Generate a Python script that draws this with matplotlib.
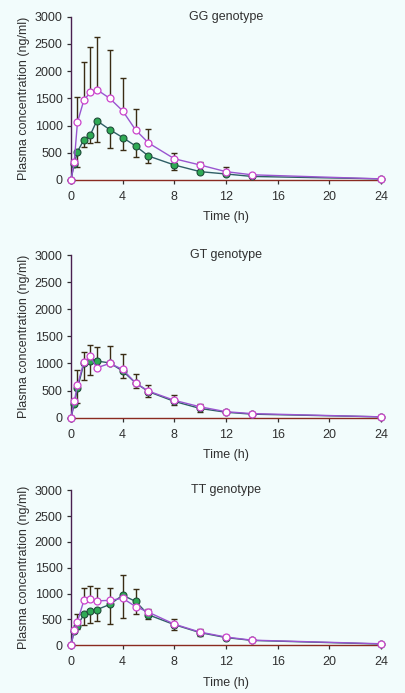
import numpy as np
import matplotlib
matplotlib.use("Agg")
import matplotlib.pyplot as plt

# sampling times (h)
times = [0, 0.25, 0.5, 1, 1.5, 2, 3, 4, 5, 6, 8, 10, 12, 14, 24]

# GG genotype
gg_open = [0, 330, 1060, 1470, 1610, 1660, 1500, 1270, 920, 680, 390, 275, 153, 95, 20]
gg_open_up = [0, 0, 470, 700, 840, 960, 880, 600, 390, 255, 100, 60, 80, 0, 0]
gg_fill = [0, 300, 520, 740, 830, 1090, 925, 780, 625, 440, 275, 153, 110, 65, 20]
gg_fill_dn = [0, 0, 275, 135, 155, 385, 345, 230, 210, 135, 90, 30, 0, 0, 0]

# GT genotype
gt_open = [0, 300, 600, 1030, 1130, 920, 1000, 890, 640, 490, 320, 200, 110, 75, 15]
gt_open_up = [0, 0, 280, 190, 210, 390, 330, 280, 160, 110, 100, 60, 40, 0, 0]
gt_fill = [0, 250, 540, 1000, 1050, 1045, 1010, 860, 640, 480, 300, 170, 100, 65, 15]
gt_fill_dn = [0, 0, 275, 305, 263, 145, 0, 120, 90, 95, 65, 60, 0, 0, 0]

# TT genotype
tt_open = [0, 300, 460, 870, 900, 860, 870, 910, 750, 640, 410, 255, 160, 100, 30]
tt_open_up = [0, 0, 150, 230, 250, 250, 240, 460, 340, 70, 90, 55, 35, 0, 0]
tt_fill = [0, 280, 380, 600, 660, 690, 790, 970, 850, 590, 400, 245, 150, 95, 25]
tt_fill_dn = [0, 0, 60, 207, 220, 220, 370, 450, 250, 75, 105, 60, 0, 0, 0]

titles = ["GG genotype", "GT genotype", "TT genotype"]
panels = [
    (gg_open, gg_open_up, gg_fill, gg_fill_dn),
    (gt_open, gt_open_up, gt_fill, gt_fill_dn),
    (tt_open, tt_open_up, tt_fill, tt_fill_dn),
]

plt.rcParams['font.family'] = ['Liberation Sans', 'DejaVu Sans']
bg = '#f2fcfc'
fig = plt.figure(figsize=(4.05, 6.93), dpi=100, facecolor=bg)

# axes boxes in figure fraction: left, bottom, width, height
boxes = [
    [0.1753, 0.7403, 0.7654, 0.2356],
    [0.1753, 0.3973, 0.7654, 0.2347],
    [0.1753, 0.0688, 0.7654, 0.2237],
]

err_col = '#3a2c14'
open_line = '#9a55d0'
open_edge = '#cc44cc'
fill_line = '#2f5f66'
fill_face = '#2faa55'
fill_edge = '#1f4f3a'
txt = '#303030'
fs = 9

for box, title, (o, ou, f, fd) in zip(boxes, titles, panels):
    ax = fig.add_axes(box)
    ax.set_facecolor(bg)
    t = np.array(times)
    o = np.array(o); f = np.array(f)

    # error bars: open series upward, filled series downward
    ax.errorbar(t, o, yerr=[np.zeros(len(t)), ou], fmt='none', ecolor=err_col,
                elinewidth=1.0, capsize=2.5, capthick=1.0, zorder=2)
    ax.errorbar(t, f, yerr=[fd, np.zeros(len(t))], fmt='none', ecolor=err_col,
                elinewidth=1.0, capsize=2.5, capthick=1.0, zorder=2)

    ax.plot(t, f, color=fill_line, lw=1.0, marker='o', ms=5,
            mfc=fill_face, mec=fill_edge, mew=0.8, zorder=3, clip_on=False)
    ax.plot(t, o, color=open_line, lw=1.0, marker='o', ms=5,
            mfc='white', mec=open_edge, mew=0.9, zorder=4, clip_on=False)

    ax.set_xlim(0, 24)
    ax.set_ylim(0, 3000)
    ax.set_xticks(np.arange(0, 25, 4))
    ax.set_yticks(np.arange(0, 3001, 500))
    ax.spines['top'].set_visible(False)
    ax.spines['right'].set_visible(False)
    ax.spines['left'].set_color('#4a2050')
    ax.spines['bottom'].set_color('#8a2a20')
    ax.spines['left'].set_linewidth(1.0)
    ax.spines['bottom'].set_linewidth(1.0)
    ax.tick_params(direction='out', length=3, width=0.9, labelsize=fs,
                   colors=txt, pad=3)
    ax.tick_params(axis='x', pad=5)
    ax.set_xlabel('Time (h)', fontsize=fs, color=txt, labelpad=6)
    ax.set_ylabel('Plasma concentration (ng/ml)', fontsize=fs,
                  color=txt, labelpad=3)
    ax.text(0.5, 1.0, title, transform=ax.transAxes, ha='center', va='center',
            fontsize=fs, color=txt)

fig.savefig('out.png', dpi=100, facecolor=bg)
